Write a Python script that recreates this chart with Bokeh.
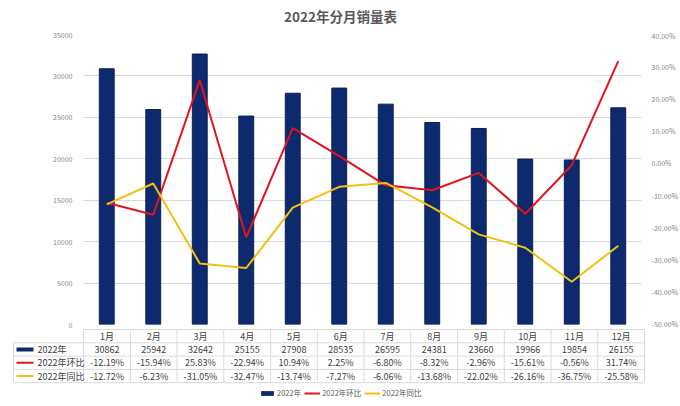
from bokeh.plotting import figure
from bokeh.models import (FactorRange, Range1d, LinearAxis, SingleIntervalTicker,
                          PrintfTickFormatter, Legend, LegendItem)
from bokeh.layouts import column
from bokeh.embed import file_html
from bokeh.resources import INLINE
from bokeh.core.properties import value

# ---------------- data ----------------
months = ["1月", "2月", "3月", "4月", "5月", "6月", "7月", "8月", "9月", "10月", "11月", "12月"]
sales_2022 = [30862, 25942, 32642, 25155, 27908, 28535, 26595, 24381, 23660, 19966, 19854, 26155]
mom_pct = [-12.19, -15.94, 25.83, -22.94, 10.94, 2.25, -6.80, -8.32, -2.96, -15.61, -0.56, 31.74]
yoy_pct = [-12.72, -6.23, -31.05, -32.47, -13.74, -7.27, -6.06, -13.68, -22.02, -26.16, -36.75, -25.58]
series_names = ["2022年", "2022年环比", "2022年同比"]
title_text = "2022年分月销量表"

# ---------------- style ----------------
FONT = "Noto Sans CJK SC"
NAVY = "#0E2A6E"
NAVY_EDGE = "#0A1F55"
RED = "#E0141D"
YELLOW = "#F2C010"
GRID = "#D9D9D9"
AXIS_TXT = "#858585"
TXT = "#404040"

W = 680
H_TITLE = 30
H_CHART = 298
H_TABLE = 406 - H_TITLE - H_CHART


def bare(fig):
    fig.axis.visible = False
    fig.grid.grid_line_color = None
    fig.outline_line_color = None
    fig.background_fill_color = "white"
    fig.border_fill_color = "white"


# ---------------- title strip ----------------
tt = figure(width=W, height=H_TITLE, x_range=Range1d(0, W), y_range=Range1d(H_TITLE, 0),
            output_backend="svg", toolbar_location=None,
            min_border_left=0, min_border_right=0, min_border_top=0, min_border_bottom=0,
            frame_align=False)
bare(tt)
tt.text(x=[W / 2], y=[15], text=[title_text], text_align="center", text_baseline="middle",
        text_font=value(FONT), text_font_size="13.5px", text_font_style="bold",
        text_color="#595959")

# ---------------- chart ----------------
p = figure(width=W, height=H_CHART, x_range=FactorRange(*months),
           y_range=Range1d(0, 35000), output_backend="svg", toolbar_location=None,
           min_border_left=83, min_border_right=36, min_border_top=4, min_border_bottom=4,
           frame_align=False)
p.x_range.range_padding = 0
p.outline_line_color = None
p.background_fill_color = "white"
p.border_fill_color = "white"

p.xaxis.visible = False
p.xgrid.grid_line_color = None
p.ygrid.grid_line_color = GRID
p.ygrid.grid_line_width = 1

yax = p.yaxis[0]
yax.ticker = SingleIntervalTicker(interval=5000)
yax.axis_line_color = None
yax.major_tick_line_color = None
yax.minor_tick_line_color = None
yax.major_label_text_font_size = "7px"
yax.major_label_text_color = AXIS_TXT
yax.major_label_text_font = FONT
yax.major_label_standoff = 5

p.extra_y_ranges = {"pct": Range1d(-50, 40)}
rax = LinearAxis(y_range_name="pct", ticker=SingleIntervalTicker(interval=10),
                 formatter=PrintfTickFormatter(format="%.2f%%"))
rax.axis_line_color = None
rax.major_tick_line_color = None
rax.minor_tick_line_color = None
rax.major_label_text_font_size = "7px"
rax.major_label_text_color = AXIS_TXT
rax.major_label_text_font = FONT
rax.major_label_standoff = 4
p.add_layout(rax, "right")

p.vbar(x=months, top=sales_2022, width=0.32, fill_color=NAVY,
       line_color=NAVY_EDGE, line_width=1)
p.line(x=months, y=mom_pct, y_range_name="pct", line_color=RED, line_width=2)
p.line(x=months, y=yoy_pct, y_range_name="pct", line_color=YELLOW, line_width=2)

# ---------------- data table ----------------
n = len(months)
LABEL_W = 1.5          # width of label column in category units
PX = 1.0 / 46.75       # one pixel in category units
R = 13.3               # row height (px)
t = figure(width=W, height=H_TABLE,
           x_range=Range1d(-LABEL_W - PX, n + PX), y_range=Range1d(H_TABLE - 1, -1),
           output_backend="svg", toolbar_location=None,
           min_border_left=12, min_border_right=35, min_border_top=0, min_border_bottom=0,
           frame_align=False)
bare(t)

# grid lines of the table
hx0 = [0] + [-LABEL_W] * 4
hx1 = [n] * 5
hy = [k * R for k in range(5)]
t.segment(x0=hx0, y0=hy, x1=hx1, y1=hy, line_color=GRID, line_width=1)
vx = list(range(n + 1)) + [-LABEL_W]
vy0 = [0] * (n + 1) + [R]
vy1 = [4 * R] * (n + 2)
t.segment(x0=vx, y0=vy0, x1=vx, y1=vy1, line_color=GRID, line_width=1)

xc = [i + 0.5 for i in range(n)]
rows_text = [
    months,
    [str(v) for v in sales_2022],
    [f"{v:.2f}%" for v in mom_pct],
    [f"{v:.2f}%" for v in yoy_pct],
]
for k, texts in enumerate(rows_text):
    t.text(x=xc, y=[(k + 0.5) * R] * n, text=texts, text_align="center",
           text_baseline="middle", text_font=value(FONT), text_font_size="9px",
           text_color=TXT)

# row labels with swatches
sw0 = -LABEL_W + 3 * PX
sw1 = -LABEL_W + 20 * PX
ry = [(k + 1.5) * R for k in range(3)]
r_bar = t.rect(x=[(sw0 + sw1) / 2], y=[ry[0]], width=sw1 - sw0, height=4,
               fill_color=NAVY, line_color=None)
r_red = t.line(x=[sw0, sw1], y=[ry[1], ry[1]], line_color=RED, line_width=2)
r_yel = t.line(x=[sw0, sw1], y=[ry[2], ry[2]], line_color=YELLOW, line_width=2)
t.text(x=[-LABEL_W + 24 * PX] * 3, y=ry, text=series_names, text_align="left",
       text_baseline="middle", text_font=value(FONT), text_font_size="9px",
       text_color=TXT)

legend = Legend(items=[LegendItem(label=series_names[0], renderers=[r_bar]),
                       LegendItem(label=series_names[1], renderers=[r_red]),
                       LegendItem(label=series_names[2], renderers=[r_yel])],
                orientation="horizontal", location=(247, 8))
legend.border_line_color = None
legend.background_fill_alpha = 0
legend.padding = 0
legend.margin = 0
legend.spacing = 3
legend.glyph_width = 16
legend.glyph_height = 6
legend.label_height = 8
legend.label_standoff = 2
legend.label_text_font = FONT
legend.label_text_font_size = "7.5px"
legend.label_text_color = "#595959"
t.add_layout(legend)

layout = column(tt, p, t, spacing=0)
open("out.html", "w").write(file_html(layout, INLINE))
